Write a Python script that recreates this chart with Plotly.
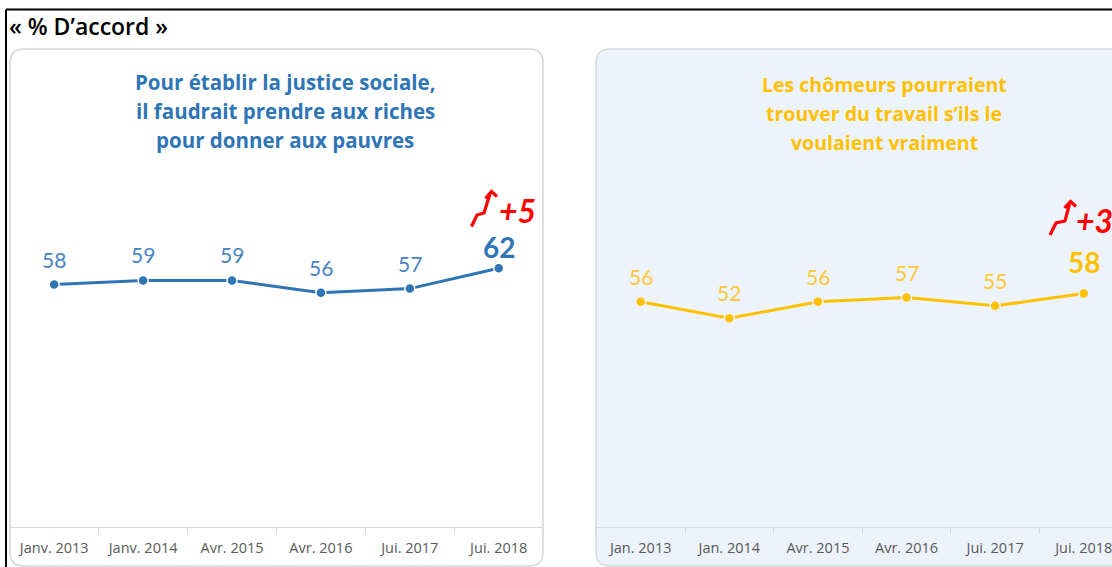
import plotly.graph_objects as go

# ---------------- data ----------------
cats_left = ["Janv. 2013", "Janv. 2014", "Avr. 2015", "Avr. 2016", "Jui. 2017", "Jui. 2018"]
cats_right = ["Jan. 2013", "Jan. 2014", "Avr. 2015", "Avr. 2016", "Jui. 2017", "Jui. 2018"]
justice = [58, 59, 59, 56, 57, 62]
chomeurs = [56, 52, 56, 57, 55, 58]
title_left = ["Pour établir la justice sociale,", "il faudrait prendre aux riches", "pour donner aux pauvres"]
title_right = ["Les chômeurs pourraient", "trouver du travail s’ils le", "voulaient vraiment"]
change_left = "+5"
change_right = "+3"
header = "« % D’accord »"

# ---------------- layout helpers ----------------
W, H = 1112, 567
def X(px):
    return px / W
def Y(py):
    return 1 - py / H

BLUE = "#2E75B6"
BLUE_LBL = "#4683C4"
GOLD = "#FFC000"
GOLD_LBL = "#FFC83A"
RIGHT_BG = "#EDF3FA"
RED = "#FF0000"
FONT = "Lato"
TFONT = "Open Sans"

fig = go.Figure()

fig.add_trace(go.Scatter(
    x=cats_left, y=justice, mode="lines+markers", xaxis="x", yaxis="y",
    line=dict(color=BLUE, width=3),
    marker=dict(size=10, color=BLUE, line=dict(color="white", width=1.5)),
    hoverinfo="skip", showlegend=False, cliponaxis=False))
fig.add_trace(go.Scatter(
    x=cats_right, y=chomeurs, mode="lines+markers", xaxis="x2", yaxis="y2",
    line=dict(color=GOLD, width=3),
    marker=dict(size=10, color=GOLD, line=dict(color=RIGHT_BG, width=1.5)),
    hoverinfo="skip", showlegend=False, cliponaxis=False))

def rounded_rect(x0, y0, x1, y1, r):
    return (f"M {X(x0+r)},{Y(y0)} L {X(x1-r)},{Y(y0)} Q {X(x1)},{Y(y0)} {X(x1)},{Y(y0+r)} "
            f"L {X(x1)},{Y(y1-r)} Q {X(x1)},{Y(y1)} {X(x1-r)},{Y(y1)} "
            f"L {X(x0+r)},{Y(y1)} Q {X(x0)},{Y(y1)} {X(x0)},{Y(y1-r)} "
            f"L {X(x0)},{Y(y0+r)} Q {X(x0)},{Y(y0)} {X(x0+r)},{Y(y0)} Z")

shapes = [
    dict(type="path", xref="paper", yref="paper", layer="below",
         path=rounded_rect(10, 49, 543, 566, 14),
         fillcolor="white", line=dict(color="#D6D6D6", width=1.5)),
    dict(type="path", xref="paper", yref="paper", layer="below",
         path=rounded_rect(596, 49, 1130, 566, 14),
         fillcolor=RIGHT_BG, line=dict(color="#D3D8DE", width=1.5)),
    # outer black frame (top and left)
    dict(type="line", xref="paper", yref="paper", x0=X(6), x1=X(1120), y0=Y(9.5), y1=Y(9.5),
         line=dict(color="black", width=2)),
    dict(type="line", xref="paper", yref="paper", x0=X(6), x1=X(6), y0=Y(9.5), y1=Y(580),
         line=dict(color="black", width=2)),
]

def arrow(pts, head):
    p = "M " + " L ".join(f"{X(a)},{Y(b)}" for a, b in pts)
    h = f"M {X(head[0][0])},{Y(head[0][1])} L {X(head[1][0])},{Y(head[1][1])} L {X(head[2][0])},{Y(head[2][1])}"
    return [dict(type="path", xref="paper", yref="paper", path=p, line=dict(color=RED, width=3.2)),
            dict(type="path", xref="paper", yref="paper", path=h, line=dict(color=RED, width=3.2))]

shapes += arrow([(471.5, 226.5), (477, 215), (484, 213), (490, 194)],
                [(485.5, 198.5), (491.5, 191.5), (497, 196.5)])
shapes += arrow([(1050, 235), (1056, 223), (1065, 221), (1069.5, 204)],
                [(1064.5, 208), (1070.5, 201.5), (1076, 206.5)])

annotations = []
annotations.append(dict(text=header, xref="paper", yref="paper", x=X(7), y=Y(26),
                        xanchor="left", yanchor="middle", showarrow=False,
                        font=dict(family=TFONT, size=23, color="black", weight=600)))

for i, line in enumerate(title_left):
    annotations.append(dict(text=line, xref="paper", yref="paper", x=X(285), y=Y(82 + 29 * i),
                            xanchor="center", yanchor="middle", showarrow=False,
                            font=dict(family=TFONT, size=20.5, color=BLUE, weight=700)))
for i, line in enumerate(title_right):
    annotations.append(dict(text=line, xref="paper", yref="paper", x=X(884), y=Y(85 + 28.5 * i),
                            xanchor="center", yanchor="middle", showarrow=False,
                            font=dict(family=TFONT, size=19.5, color=GOLD, weight=700)))

def value_labels(cats, vals, xa, ya, col, col_last, shift, shift_last):
    out = []
    n = len(vals)
    for i, (c, v) in enumerate(zip(cats, vals)):
        last = i == n - 1
        out.append(dict(text=f"<b>{v}</b>" if last else str(v), x=c, y=v, xref=xa, yref=ya,
                        xanchor="center", yanchor="middle", showarrow=False,
                        yshift=shift_last if last else shift,
                        font=dict(family=FONT, size=28 if last else 21, color=col_last if last else col)))
    return out

annotations += value_labels(cats_left, justice, "x", "y", BLUE_LBL, BLUE, 25.5, 21)
annotations += value_labels(cats_right, chomeurs, "x2", "y2", GOLD_LBL, GOLD, 25.5, 31)

annotations.append(dict(text=f"<b><i>{change_left}</i></b>", xref="paper", yref="paper", x=X(497), y=Y(210),
                        xanchor="left", yanchor="middle", showarrow=False,
                        font=dict(family=FONT, size=32, color=RED)))
annotations.append(dict(text=f"<b><i>{change_right}</i></b>", xref="paper", yref="paper", x=X(1074), y=Y(220),
                        xanchor="left", yanchor="middle", showarrow=False,
                        font=dict(family=FONT, size=32, color=RED)))

xaxis_common = dict(type="category", showgrid=False, zeroline=False, showline=True,
                    linecolor="#D9D9D9", linewidth=1, ticks="outside", tickson="boundaries",
                    ticklen=6, tickcolor="#D9D9D9", tickwidth=1, ticklabelstandoff=8,
                    tickfont=dict(family="Open Sans", size=14.5, color="#595959"), fixedrange=True)
yaxis_common = dict(visible=False, showgrid=False, zeroline=False, fixedrange=True)

fig.update_layout(
    width=W, height=H, margin=dict(l=0, r=0, t=0, b=0),
    paper_bgcolor="white", plot_bgcolor="rgba(0,0,0,0)",
    xaxis=dict(domain=[X(9.75), X(543.15)], range=[-0.5, 5.5], anchor="y", **xaxis_common),
    yaxis=dict(domain=[Y(527), Y(160)], range=[-1.57, 88.6], anchor="x", **yaxis_common),
    xaxis2=dict(domain=[X(596.4), 1.0], range=[-0.5, 5.319], anchor="y2", **xaxis_common),
    yaxis2=dict(domain=[Y(527), Y(160)], range=[1.71, 90.14], anchor="x2", **yaxis_common),
    shapes=shapes, annotations=annotations,
)

fig.write_html("out.html", config={"displayModeBar": False, "staticPlot": True},
               post_script="document.body.style.margin='0';document.body.style.overflow='hidden';")
